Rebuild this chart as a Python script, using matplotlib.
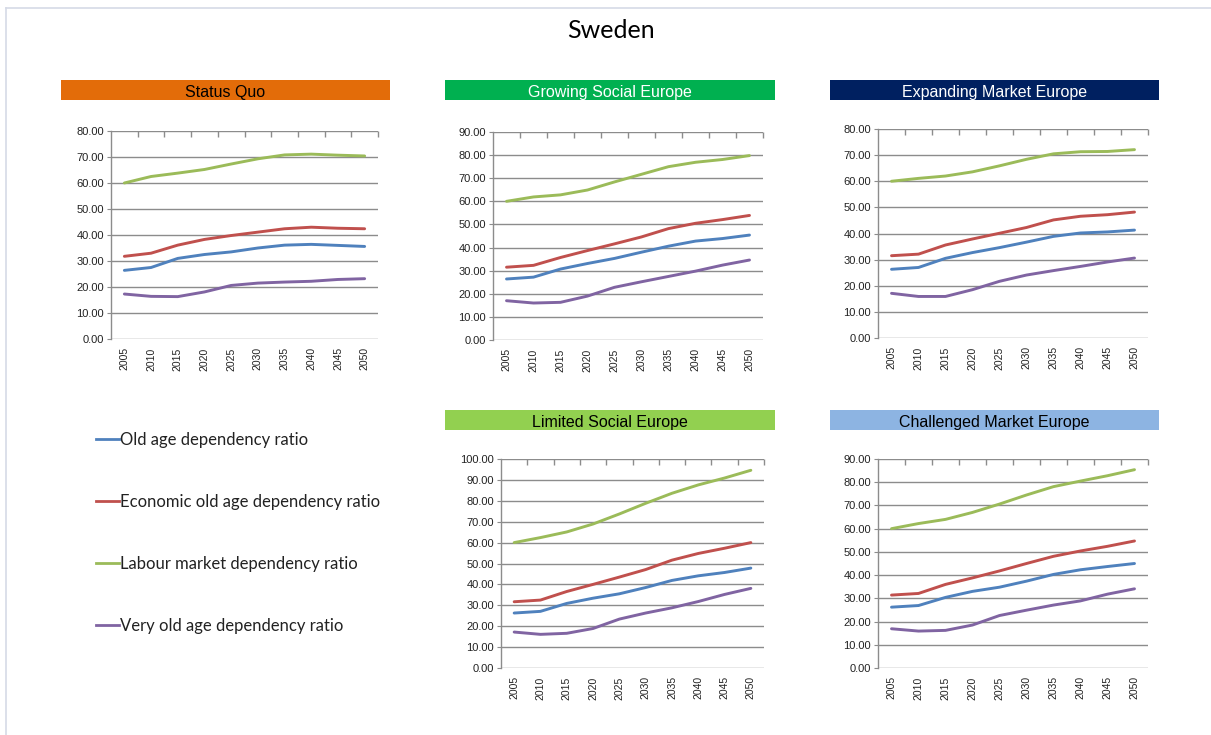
import matplotlib
matplotlib.use("Agg")
import matplotlib.pyplot as plt
from matplotlib.patches import Rectangle
from matplotlib.lines import Line2D

W, H = 1211, 735

years = ["2005", "2010", "2015", "2020", "2025", "2030", "2035", "2040", "2045", "2050"]

series_names = [
    "Old age dependency ratio",
    "Economic old age dependency ratio",
    "Labour market dependency ratio",
    "Very old age dependency ratio",
]
series_colors = ["#4F81BD", "#C0504D", "#9BBB59", "#8064A2"]

# Status Quo
sq_old = [26.4, 27.5, 31.0, 32.5, 33.5, 35.0, 36.1, 36.4, 36.0, 35.6]
sq_econ = [31.8, 33.0, 36.1, 38.3, 39.8, 41.1, 42.4, 43.0, 42.6, 42.4]
sq_labour = [60.0, 62.5, 63.8, 65.2, 67.3, 69.3, 70.8, 71.1, 70.7, 70.4]
sq_very_old = [17.3, 16.4, 16.3, 18.1, 20.6, 21.5, 21.9, 22.2, 22.9, 23.2]

# Growing Social Europe
gs_old = [26.4, 27.2, 30.7, 33.1, 35.3, 38.0, 40.6, 42.8, 43.9, 45.4]
gs_econ = [31.5, 32.3, 35.7, 38.7, 41.6, 44.6, 48.2, 50.5, 52.1, 53.9]
gs_labour = [60.0, 61.9, 62.8, 64.9, 68.4, 71.7, 75.0, 76.9, 78.1, 79.8]
gs_very_old = [17.0, 16.0, 16.3, 19.0, 22.8, 25.2, 27.5, 29.8, 32.4, 34.6]

# Expanding Market Europe
em_old = [26.3, 27.0, 30.5, 32.7, 34.6, 36.7, 38.9, 40.2, 40.6, 41.3]
em_econ = [31.5, 32.1, 35.6, 37.9, 40.1, 42.3, 45.2, 46.6, 47.2, 48.2]
em_labour = [60.0, 61.1, 62.0, 63.6, 65.9, 68.4, 70.5, 71.3, 71.4, 72.1]
em_very_old = [17.1, 15.9, 15.9, 18.5, 21.7, 24.1, 25.8, 27.4, 29.1, 30.6]

# Limited Social Europe
ls_old = [26.3, 27.1, 30.9, 33.4, 35.5, 38.5, 41.9, 44.1, 45.7, 47.8]
ls_econ = [31.7, 32.5, 36.6, 40.0, 43.5, 47.1, 51.6, 54.8, 57.3, 60.0]
ls_labour = [60.0, 62.4, 65.1, 68.9, 73.7, 78.8, 83.6, 87.6, 90.9, 94.6]
ls_very_old = [17.2, 16.1, 16.6, 18.9, 23.4, 26.3, 28.8, 31.8, 35.2, 38.1]

# Challenged Market Europe
cm_old = [26.2, 26.9, 30.4, 33.0, 34.8, 37.4, 40.3, 42.3, 43.7, 45.0]
cm_econ = [31.4, 32.1, 36.0, 38.8, 41.8, 45.0, 48.1, 50.4, 52.4, 54.7]
cm_labour = [60.0, 62.2, 64.0, 67.0, 70.6, 74.5, 78.1, 80.5, 82.8, 85.4]
cm_very_old = [16.9, 15.9, 16.2, 18.5, 22.6, 24.9, 27.1, 28.9, 31.8, 34.1]

scenario_titles = ["Status Quo", "Growing Social Europe", "Expanding Market Europe",
                   "Limited Social Europe", "Challenged Market Europe"]
scenario_ymax = [80, 90, 80, 100, 90]
scenario_data = [
    [sq_old, sq_econ, sq_labour, sq_very_old],
    [gs_old, gs_econ, gs_labour, gs_very_old],
    [em_old, em_econ, em_labour, em_very_old],
    [ls_old, ls_econ, ls_labour, ls_very_old],
    [cm_old, cm_econ, cm_labour, cm_very_old],
]

# layout in pixels: (plot area box, header box, header face, header text colour)
layout = [
    ((111, 131, 378, 339), (61, 80, 390, 100), "#E36C09", "black"),
    ((493, 132, 763, 340), (445, 80, 775, 100), "#00B050", "white"),
    ((878, 129, 1148, 338), (830, 80, 1159, 100), "#002060", "white"),
    ((501, 459, 764, 668), (445, 410, 775, 430), "#92D050", "black"),
    ((878, 459, 1148, 668), (830, 410, 1159, 430), "#8DB4E2", "black"),
]

GRID = "#8C8C8C"


def fig_box(x0, y0, x1, y1):
    return [x0 / W, 1 - y1 / H, (x1 - x0) / W, (y1 - y0) / H]


fig = plt.figure(figsize=(W / 100, H / 100), dpi=100)
fig.patch.set_facecolor("white")

# slide frame (left and top edges)
fig.add_artist(Line2D([6 / W, 6 / W], [0, 1 - 8 / H], transform=fig.transFigure,
                      color="#D5DAE6", lw=1.2))
fig.add_artist(Line2D([6 / W, 1], [1 - 8 / H, 1 - 8 / H], transform=fig.transFigure,
                      color="#D5DAE6", lw=1.2))

fig.text(611 / W, 1 - 28 / H, "Sweden", ha="center", va="center_baseline",
         fontsize=18, family=["Lato", "DejaVu Sans"], color="black")

xs = list(range(len(years)))

for title, ymax, data, (pbox, hbox, hface, hcolor) in zip(
        scenario_titles, scenario_ymax, scenario_data, layout):
    # coloured header band
    hx0, hy0, hx1, hy1 = hbox
    fig.add_artist(Rectangle((hx0 / W, 1 - hy1 / H), (hx1 - hx0) / W, (hy1 - hy0) / H,
                             transform=fig.transFigure, facecolor=hface,
                             edgecolor="none"))
    fig.text((hx0 + hx1) / 2 / W, 1 - ((hy0 + hy1) / 2 + 1) / H, title,
             ha="center", va="center_baseline", fontsize=11.5,
             family="Liberation Sans", color=hcolor)

    ax = fig.add_axes(fig_box(*pbox))
    for values, color in zip(data, series_colors):
        ax.plot(xs, values, color=color, lw=2.1, solid_capstyle="round", zorder=3)

    ax.set_xlim(-0.5, len(years) - 0.5)
    ax.set_ylim(0, ymax)
    yt = list(range(0, ymax + 1, 10))
    ax.set_yticks(yt)
    ax.set_yticklabels([f"{v:.2f}" for v in yt])
    ax.set_xticks(xs)
    ax.set_xticklabels(years, rotation=90)
    ax.grid(axis="y", color=GRID, lw=1.0, zorder=1)
    ax.set_axisbelow(True)

    # category separator ticks along the top edge
    ax.set_xticks([i + 0.5 for i in xs], minor=True)
    ax.tick_params(axis="x", which="minor", top=True, bottom=False, direction="in",
                   length=4, color=GRID, width=1)
    ax.tick_params(axis="x", which="major", length=0, pad=6, labelsize=7.5,
                   labelcolor="#222222")
    ax.tick_params(axis="y", length=3, color=GRID, pad=2, labelsize=8,
                   labelcolor="#222222")
    for lab in ax.get_xticklabels() + ax.get_yticklabels():
        lab.set_family("Liberation Sans")

    for side in ("top", "right", "bottom"):
        ax.spines[side].set_visible(False)
    ax.spines["left"].set_color(GRID)
    ax.spines["left"].set_linewidth(1.0)

# shared legend at lower left
legend_y = [439, 501, 563, 625]
for name, color, ly in zip(series_names, series_colors, legend_y):
    fig.add_artist(Line2D([96 / W, 119 / W], [1 - ly / H, 1 - ly / H],
                          transform=fig.transFigure, color=color, lw=2.0))
    fig.text(120 / W, 1 - ly / H, name, ha="left", va="center_baseline", fontsize=12,
             family=["Lato", "DejaVu Sans"], color="#222222")

fig.savefig("out.png", dpi=100, facecolor="white")
